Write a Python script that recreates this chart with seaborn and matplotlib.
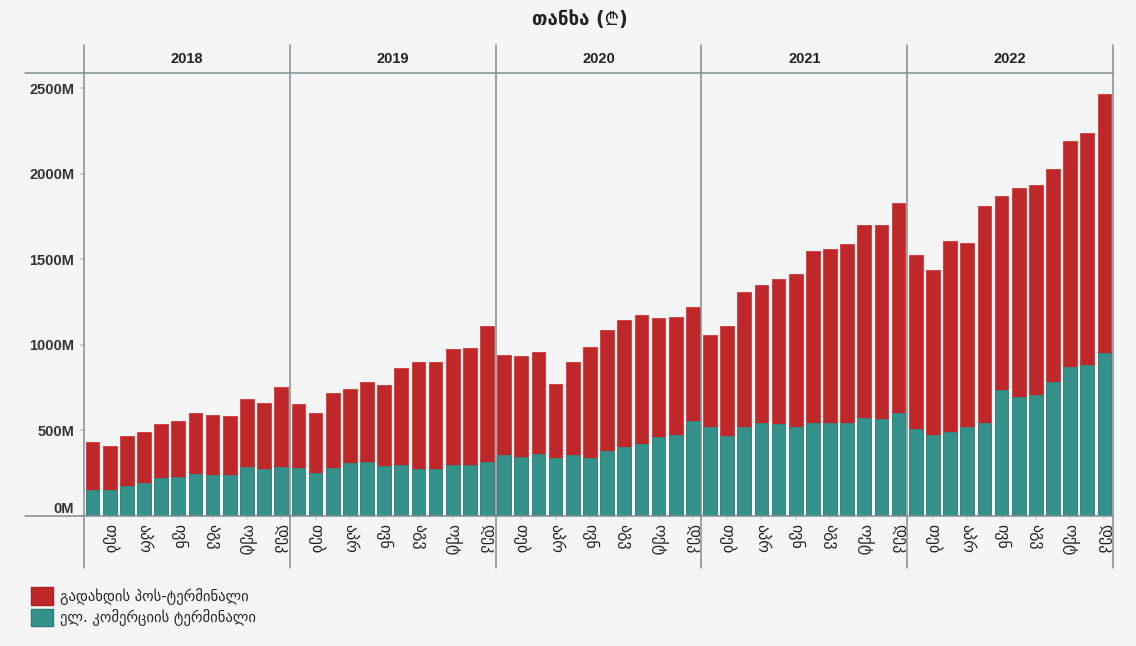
import numpy as np
import pandas as pd
import matplotlib
matplotlib.use("Agg")
import matplotlib.pyplot as plt
from matplotlib.patches import Patch
import seaborn as sns

# values in millions of GEL
years = ["2018", "2019", "2020", "2021", "2022"]
month_labels = ["თებ", "აპრ", "ივნ", "აგვ", "ოქტ", "დეკ"]

# e-commerce terminal (teal, bottom)
ecom = [152, 152, 177, 193, 220, 230, 247, 238, 238, 288, 276, 288,
        282, 253, 282, 308, 314, 292, 298, 273, 273, 298, 298, 314,
        354, 345, 362, 337, 354, 337, 378, 401, 422, 460, 475, 555,
        518, 467, 522, 545, 539, 522, 541, 541, 541, 574, 566, 603,
        506, 473, 492, 522, 545, 736, 697, 707, 781, 872, 884, 954]

# payment POS terminal (red, on top)
pos = [278, 255, 290, 298, 319, 323, 356, 352, 344, 395, 384, 464,
       370, 350, 440, 436, 467, 473, 570, 625, 630, 676, 683, 796,
       586, 588, 596, 436, 545, 652, 710, 742, 752, 696, 691, 664,
       540, 643, 788, 804, 849, 893, 1008, 1022, 1052, 1129, 1137, 1229,
       1022, 968, 1116, 1076, 1265, 1135, 1220, 1230, 1246, 1322, 1355, 1515]

label_pos = "გადახდის პოს-ტერმინალი"
label_ecom = "ელ. კომერციის ტერმინალი"
title = "თანხა (₾)"

red = "#bf282a"
teal = "#35928a"
bg = "#f5f5f5"
line_col = "#7f8d92"

sns.set_theme(style="white")
plt.rcParams["font.family"] = ["Liberation Sans", "DejaVu Sans", "Noto Sans"]

df = pd.DataFrame({"idx": np.arange(len(ecom)), "ecom": ecom, "pos": pos})
df["total"] = df["ecom"] + df["pos"]

fig = plt.figure(figsize=(11.36, 6.46), dpi=100, facecolor=bg)
ax = fig.add_axes([84 / 1136, 1 - 516 / 646, 1029 / 1136, 443 / 646])
ax.set_facecolor(bg)

sns.barplot(data=df, x="idx", y="total", color=red, width=0.8,
            edgecolor="#d93434", linewidth=0.6, saturation=1, ax=ax)
sns.barplot(data=df, x="idx", y="ecom", color=teal, width=0.8,
            edgecolor="#2f8a82", linewidth=0.6, saturation=1, ax=ax)

ax.set_xlim(-0.5, 59.5)
ax.set_ylim(0, 2590)
ax.set_xlabel("")
ax.set_ylabel("")
for s in ax.spines.values():
    s.set_visible(False)

yt = [0, 500, 1000, 1500, 2000, 2500]
ax.set_yticks(yt)
ax.set_yticklabels([f"{v}M" for v in yt], fontsize=10.5, fontweight="bold", color="#333333")
ax.tick_params(axis="y", length=3, color="#cccccc", pad=4, left=True)
ax.get_yticklabels()[0].set_va("bottom")

ax.set_xticks(np.arange(1, 60, 2))
ax.set_xticklabels(month_labels * len(years), rotation=-90, fontsize=11.5,
                   color="#222222", family=["DejaVu Sans"])
ax.tick_params(axis="x", length=3, color="#dddddd", pad=3, bottom=True)

# facet separators
for b in [-0.5, 11.5, 23.5, 35.5, 47.5, 59.5]:
    ax.axvline(b, ymin=-0.117, ymax=1.063, color=line_col, lw=1.1, clip_on=False)
for yy in [0, 1]:
    ax.plot([-0.0573, 1], [yy, yy], transform=ax.transAxes, color=line_col,
            lw=1.1, clip_on=False)

for k, yr in enumerate(years):
    ax.text(12 * k + 5.5, 1.032, yr, transform=ax.get_xaxis_transform(),
            ha="center", va="center", fontsize=10.5, fontweight="bold", color="#222222")

fig.text(580 / 1136, 1 - 20 / 646, title, ha="center", va="center",
         fontsize=13.5, fontweight="bold", color="#222222",
         family=["DejaVu Sans", "Noto Sans"])

handles = [Patch(facecolor=red, edgecolor="#a82222"),
           Patch(facecolor=teal, edgecolor="#2a7d76")]
fig.legend(handles, [label_pos, label_ecom], loc="upper left",
           bbox_to_anchor=(18 / 1136, 1 - 574 / 646), frameon=False,
           handlelength=1.5, handleheight=1.5, handletextpad=0.45,
           labelspacing=0.25, prop={"family": "DejaVu Sans", "size": 10.5})

fig.savefig("out.png", dpi=100, facecolor=bg)
